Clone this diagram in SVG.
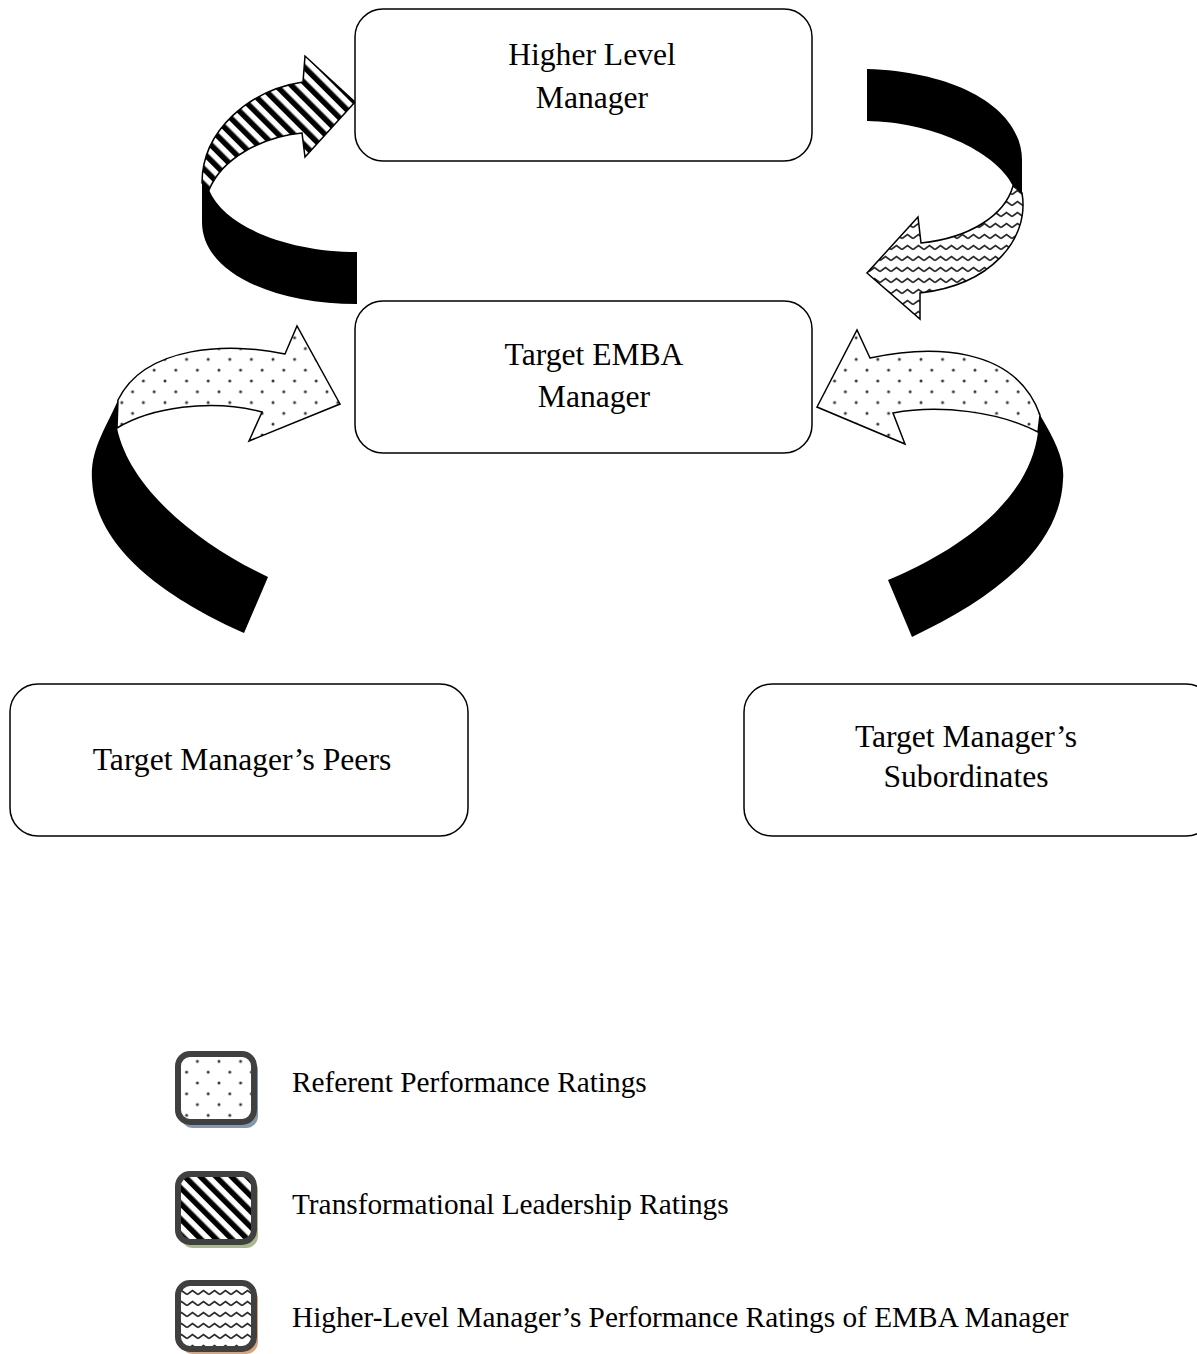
<svg xmlns="http://www.w3.org/2000/svg" width="1197" height="1354" viewBox="0 0 1197 1354">
<defs>
<pattern id="dots" patternUnits="userSpaceOnUse" width="21.6" height="21.6">
<rect width="21.6" height="21.6" fill="#fff"/>
<circle cx="3" cy="3" r="1.5" fill="#333"/>
<circle cx="13.8" cy="13.8" r="1.5" fill="#333"/>
</pattern>
<pattern id="stripes" patternUnits="userSpaceOnUse" width="11" height="11" patternTransform="rotate(-45)">
<rect width="11" height="11" fill="#fff"/>
<rect x="0" y="0" width="5.5" height="11" fill="#000"/>
</pattern>
<pattern id="waves" patternUnits="userSpaceOnUse" width="11" height="11">
<rect width="11" height="11" fill="#fff"/>
<path d="M0,7.5 L5.5,3.5 L11,7.5" fill="none" stroke="#2a2a2a" stroke-width="1.8"/>
</pattern>
<style>
.box{fill:#fff;stroke:#000;stroke-width:1.5}
.lbl{font-family:"Liberation Serif","Times New Roman",serif;font-size:31.6px;fill:#000;text-anchor:middle}
.leg{font-family:"Liberation Serif","Times New Roman",serif;font-size:29.3px;fill:#000}
.blk{fill:#000;stroke:none}
.face{stroke:#000;stroke-width:1.5;stroke-linejoin:miter}
.icon{stroke:#404040;stroke-width:6}
</style>
</defs>

<g id="connectors">
<g id="arrow-transformational">
<path class="blk" d="M202,183 L202,222 C202,272 272,304 357,304 L357,252 C290,252 225,228 209,190 Z"/>
<path class="face" fill="url(#stripes)" d="M202,183 C202,130 250,90 303,82 L305,56 L355,102 L305,157 L302,133 C262,137 222,158 209,190 Z"/>
</g>
<g id="arrow-higher">
<path class="blk" d="M867,69 L867,121 C930,122 995,150 1013,186 L1022,193 L1022,160 C1022,110 960,72 867,69 Z"/>
<path class="face" fill="url(#waves)" d="M1013,186 C1005,215 970,238 921,243 L918,217 L867,273 L920,319 L920,293 C990,285 1030,240 1022,193 Z"/>
</g>
<g id="arrow-peers">
<path class="blk" d="M118,400 C105,430 90,450 92,480 C95,550 170,600 244,633 L268,577 C200,545 130,490 117,428 Z"/>
<path class="face" fill="url(#dots)" d="M117,428 C150,408 210,398 262,412 L249,441 L340,404 L297,326 L285,354 C230,342 145,345 118,400 Z"/>
</g>
<g id="arrow-subordinates">
<path class="blk" d="M1040,415 C1055,440 1065,460 1063,480 C1060,550 990,600 912,637 L888,580 C960,550 1030,500 1038,432 Z"/>
<path class="face" fill="url(#dots)" d="M1038,432 C1000,412 940,404 893,413 L905,444 L817,407 L857,330 L870,358 C930,345 1015,345 1040,415 Z"/>
</g>
</g>

<g id="node-higher">
<rect class="box" x="355" y="9" width="457" height="152" rx="28"/>
<text class="lbl" x="592" y="65">Higher Level</text>
<text class="lbl" x="592" y="108">Manager</text>
</g>
<g id="node-target">
<rect class="box" x="355" y="301" width="457" height="152" rx="28"/>
<text class="lbl" x="594" y="365">Target EMBA</text>
<text class="lbl" x="594" y="407">Manager</text>
</g>
<g id="node-peers">
<rect class="box" x="10" y="684" width="458" height="152" rx="28"/>
<text class="lbl" x="242" y="770">Target Manager’s Peers</text>
</g>
<g id="node-subordinates">
<rect class="box" x="744" y="684" width="470" height="152" rx="28"/>
<text class="lbl" x="966" y="747">Target Manager’s</text>
<text class="lbl" x="966" y="787">Subordinates</text>
</g>

<g id="legend">
<g id="legend-referent">
<rect x="181" y="1058" width="77" height="70" rx="12" fill="#8496b0"/>
<rect class="icon" x="178" y="1054" width="76" height="68" rx="12" fill="url(#dots)"/>
<text class="leg" x="292" y="1092">Referent Performance Ratings</text>
</g>
<g id="legend-transformational">
<rect x="181" y="1178" width="77" height="70" rx="12" fill="#a9b98f"/>
<rect class="icon" x="178" y="1174" width="76" height="68" rx="12" fill="url(#stripes)"/>
<text class="leg" x="292" y="1214">Transformational Leadership Ratings</text>
</g>
<g id="legend-higher">
<rect x="181" y="1287" width="77" height="67" rx="12" fill="#d9a37c"/>
<rect class="icon" x="178" y="1283" width="76" height="66" rx="12" fill="url(#waves)"/>
<text class="leg" x="292" y="1327">Higher-Level Manager’s Performance Ratings of EMBA Manager</text>
</g>
</g>
</svg>
